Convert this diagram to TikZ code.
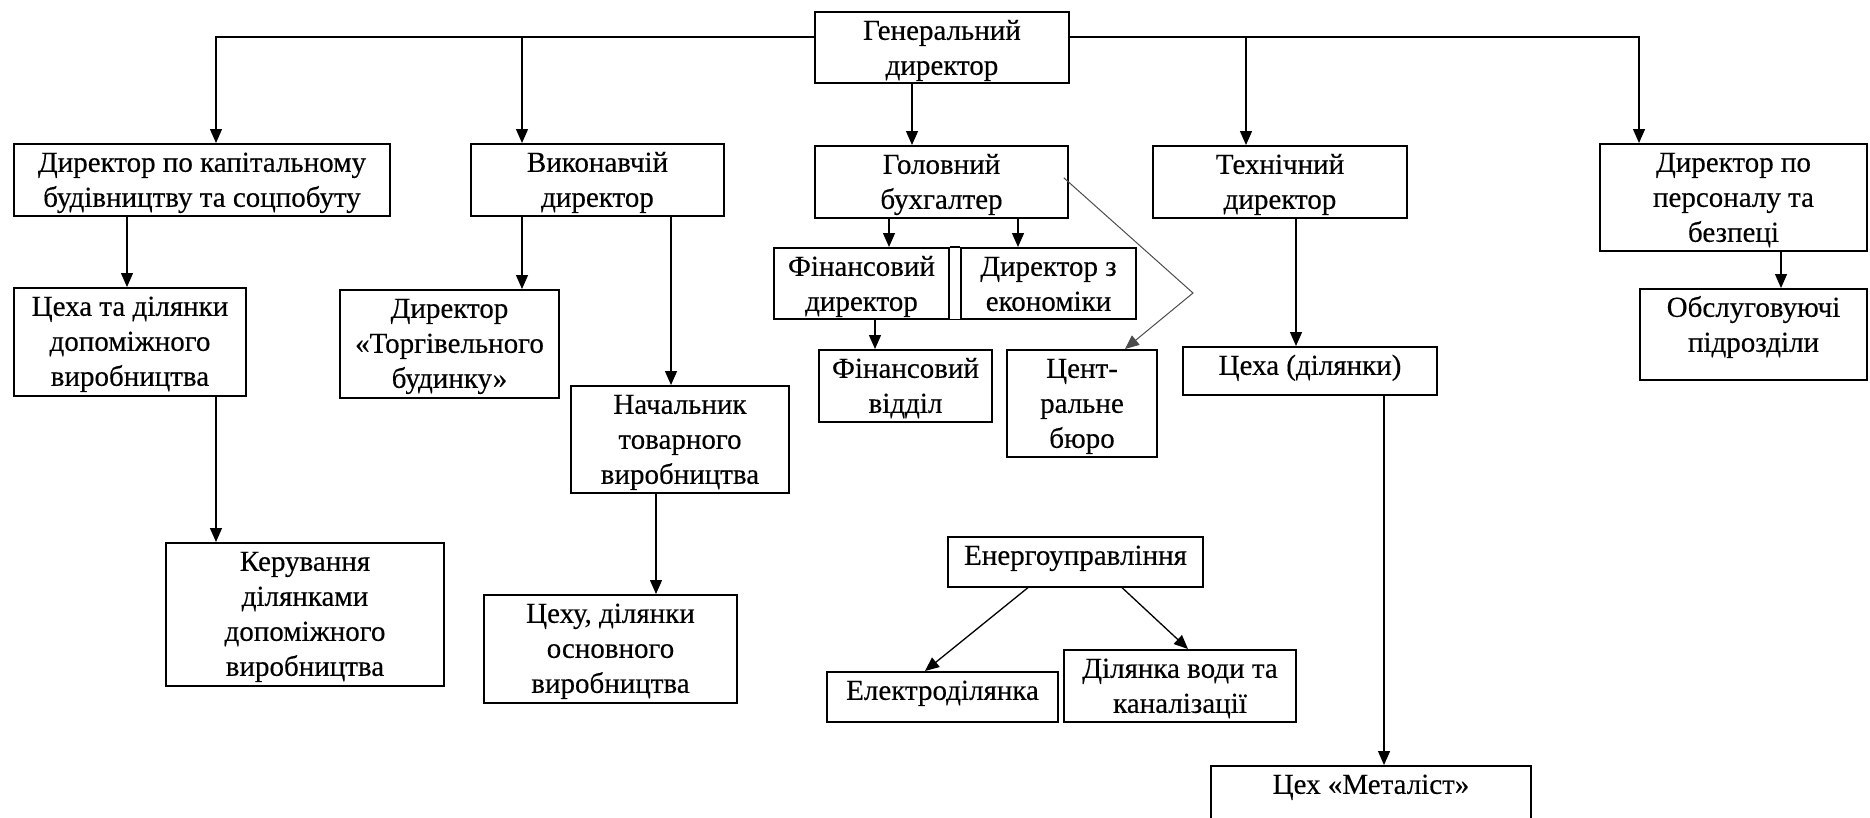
\documentclass[tikz,border=0pt]{standalone}
\usepackage{fontspec}
\setmainfont{Liberation Serif}
\newfontfamily\boxfont{Liberation Serif}[FakeBold=0.3]
\usetikzlibrary{arrows.meta}

\tikzset{
  unit/.style={draw, line width=1.6pt, fill=white, align=center, anchor=north,
    inner xsep=2pt, inner ysep=4pt, text height=24pt,
    font=\boxfont\fontsize{29}{35}\selectfont},
  lines2/.style={text height=59pt},
  lines3/.style={text height=94pt},
  lines4/.style={text height=129pt},
  link/.style={line width=1.3pt},
}

\begin{document}
\begin{tikzpicture}[x=1pt, y=-1pt, >={Triangle[length=14pt, width=12pt]}]
    \clip (0,0) rectangle (1870,817);

    \node[unit, lines2, minimum width=254pt, text depth=4pt] (gen) at (942,11) {Генеральний\\директор};

    \node[unit, lines2, minimum width=376pt, text depth=5pt] (kap) at (202,143) {Директор по капітальному\\будівництву та соцпобуту};
    \node[unit, lines2, minimum width=253pt, text depth=5pt] (vyk) at (597.5,143) {Виконавчій\\директор};
    \node[unit, lines2, minimum width=253pt, text depth=5pt] (holov) at (941.5,145) {Головний\\бухгалтер};
    \node[unit, lines2, minimum width=254pt, text depth=5pt] (tekh) at (1280,145) {Технічний\\директор};
    \node[unit, lines3, minimum width=267pt, text depth=5pt] (pers) at (1733.5,143) {Директор по\\персоналу та\\безпеці};

    \coordinate (b1) at (216,37);
    \coordinate (b2) at (522,37);
    \coordinate (b3) at (1246,37);
    \coordinate (b4) at (1639,37);
    \draw[link, ->] (gen.west |- b1) -| (b1 |- kap.north);
    \draw[link] (b2) edge[->] (b2 |- vyk.north);
    \draw[link, ->] (gen.east |- b4) -| (b4 |- pers.north);
    \draw[link] (b3) edge[->] (b3 |- tekh.north);
    \draw[link] ([xshift=-30pt]gen.south) edge[->] ([xshift=-30pt]gen.south |- holov.north);

    \node[unit, lines3, minimum width=232pt, text depth=6pt] (tsekhdop) at (130,287) {Цеха та ділянки\\допоміжного\\виробництва};
    \node[unit, lines4, minimum width=278pt, text depth=6pt] (keruv) at (305,542) {Керування\\ділянками\\допоміжного\\виробництва};
    \draw[link] ([xshift=-75pt]kap.south) edge[->] ([xshift=-75pt]kap.south |- tsekhdop.north);
    \draw[link] ([xshift=86pt]tsekhdop.south) edge[->] ([xshift=86pt]tsekhdop.south |- keruv.north);

    \node[unit, lines3, minimum width=219pt, text depth=6pt] (torh) at (449.5,289) {Директор\\«Торгівельного\\будинку»};
    \node[unit, lines3, minimum width=218pt, text depth=5pt] (nach) at (680,385) {Начальник\\товарного\\виробництва};
    \node[unit, lines3, minimum width=253pt, text depth=6pt] (osnov) at (610.5,594) {Цеху, ділянки\\основного\\виробництва};
    \draw[link] ([xshift=-75.5pt]vyk.south) edge[->] ([xshift=-75.5pt]vyk.south |- torh.north);
    \draw[link] ([xshift=73.5pt]vyk.south) edge[->] ([xshift=73.5pt]vyk.south |- nach.north);
    \draw[link] ([xshift=-24pt]nach.south) edge[->] ([xshift=-24pt]nach.south |- osnov.north);

    \node[unit, lines2, minimum width=175pt, text depth=4pt] (findyr) at (861.5,247) {Фінансовий\\директор};
    \node[unit, lines2, minimum width=175pt, text depth=4pt] (ekon) at (1048.5,247) {Директор з\\економіки};
    \draw[line width=1.6pt] (findyr.north east) -- (ekon.north west);
    \draw[line width=1.6pt] (findyr.south east) -- (ekon.south west);
    \node[unit, lines2, minimum width=173pt, text depth=5pt] (finvid) at (905.5,349) {Фінансовий\\відділ};
    \node[unit, lines3, minimum width=150pt, text depth=5pt] (tsentr) at (1082,349) {Цент-\\ральне\\бюро};
    \draw[link] ([xshift=-52.5pt]holov.south) edge[->] ([xshift=-52.5pt]holov.south |- findyr.north);
    \draw[link] ([xshift=76.5pt]holov.south) edge[->] ([xshift=76.5pt]holov.south |- ekon.north);
    \draw[link] ([xshift=13.5pt]findyr.south) edge[->] ([xshift=13.5pt]findyr.south |- finvid.north);
    \coordinate (kink) at (1193,293);
    \draw[line width=1pt, black!70, ->] ([xshift=-5pt, yshift=4pt]holov.east) -- (kink) -- ([xshift=43pt]tsentr.north);

    \node[unit, minimum width=254pt, text depth=16pt] (tsekhy) at (1310,346) {Цеха (ділянки)};
    \node[unit, minimum width=320pt, text depth=60pt] (metal) at (1371,765) {Цех «Металіст»};
    \draw[link] ([xshift=16pt]tekh.south) edge[->] ([xshift=16pt]tekh.south |- tsekhy.north);
    \draw[link] ([xshift=74pt]tsekhy.south) edge[->] ([xshift=74pt]tsekhy.south |- metal.north);

    \node[unit, lines2, minimum width=227pt, text depth=24pt] (obsl) at (1753.5,288) {Обслуговуючі\\підрозділи};
    \draw[link] ([xshift=47.5pt]pers.south) edge[->] ([xshift=47.5pt]pers.south |- obsl.north);

    \node[unit, minimum width=255pt, text depth=18pt] (energo) at (1075.5,536) {Енергоуправління};
    \node[unit, minimum width=231pt, text depth=18pt] (elektro) at (942.5,671) {Електроділянка};
    \node[unit, lines2, minimum width=232pt, text depth=5pt] (voda) at (1180,649) {Ділянка води та\\каналізації};
    \draw[link] ([xshift=-47.5pt]energo.south) edge[->] ([xshift=-17.5pt]elektro.north);
    \draw[link] ([xshift=46.5pt]energo.south) edge[->] ([xshift=8pt]voda.north);
\end{tikzpicture}
\end{document}
